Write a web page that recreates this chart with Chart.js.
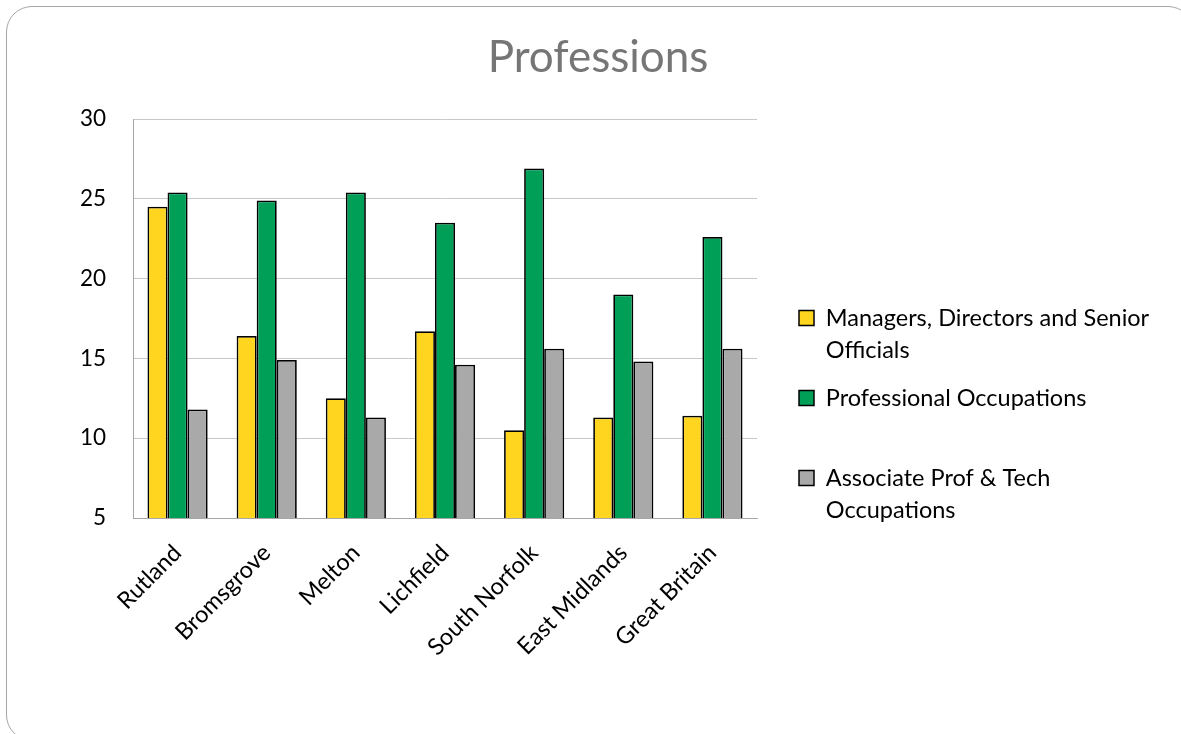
<!DOCTYPE html>
<html>
<head>
<meta charset="utf-8">
<script src="https://cdn.jsdelivr.net/npm/chart.js@4.4.1/dist/chart.umd.min.js"></script>
<style>
  html, body { margin: 0; padding: 0; background: #ffffff; }
  #wrap { position: relative; width: 1181px; height: 734px; overflow: hidden; background: #ffffff; }
  #frame { position: absolute; left: 6px; top: 6px; width: 1188px; height: 735px;
           border: 1.5px solid #a6a6a6; border-radius: 26px; box-sizing: border-box; }
  #c { position: absolute; left: 0; top: 0; }
</style>
</head>
<body>
<div id="wrap">
  <div id="frame"></div>
  <canvas id="c" width="1181" height="734"></canvas>
</div>
<script>
// Share of employment by occupation group (%)
const categories = ['Rutland', 'Bromsgrove', 'Melton', 'Lichfield', 'South Norfolk', 'East Midlands', 'Great Britain'];
const managers     = [24.5, 16.4, 12.5, 16.7, 10.5, 11.3, 11.4];
const professional = [25.4, 24.9, 25.4, 23.5, 26.9, 19.0, 22.6];
const associate    = [11.8, 14.9, 11.3, 14.6, 15.6, 14.8, 15.6];

const seriesNames = ['Managers, Directors and Senior Officials', 'Professional Occupations', 'Associate Prof & Tech Occupations'];
// legend text broken into lines (blank line keeps the entries evenly spaced)
const legendLines = [
  ['Managers, Directors and Senior', 'Officials'],
  ['Professional Occupations', ''],
  ['Associate Prof & Tech', 'Occupations']
];
const yTicks = [5, 10, 15, 20, 25, 30];

const FONT = 'Lato, "Open Sans", "DejaVu Sans", sans-serif';
const LEGEND_SIZE = 23.5;
const LEGEND_PAD = 16;
const BOX = 15;
const PLOT_LEFT = 133, PLOT_RIGHT = 757, PLOT_BOTTOM = 518, LEGEND_LEFT = 783;
const W = 1181, H = 734;

// work out side paddings so the legend starts at LEGEND_LEFT and the title sits centred on the card
const mctx = document.createElement('canvas').getContext('2d');
mctx.font = LEGEND_SIZE + 'px ' + FONT;
let longest = '';
legendLines.forEach(ls => ls.forEach(l => { if (l.length > longest.length) longest = l; }));
const textW = mctx.measureText(longest).width;
const legendW = LEGEND_PAD + BOX + LEGEND_SIZE / 2 + textW + 10;
const padRight = W - LEGEND_LEFT - legendW;
const padLeft = padRight + 15;

Chart.defaults.font.family = FONT;

new Chart(document.getElementById('c'), {
  type: 'bar',
  data: {
    labels: categories,
    datasets: [
      { label: seriesNames[0], data: managers,     backgroundColor: '#FFD520', borderColor: '#000000', borderWidth: 1.75, borderSkipped: false },
      { label: seriesNames[1], data: professional, backgroundColor: '#009F58', borderColor: '#000000', borderWidth: 1.75, borderSkipped: false },
      { label: seriesNames[2], data: associate,    backgroundColor: '#A9A9A9', borderColor: '#000000', borderWidth: 1.75, borderSkipped: false }
    ]
  },
  options: {
    responsive: false,
    animation: false,
    devicePixelRatio: 1,
    layout: { padding: { left: padLeft, right: padRight, top: 0, bottom: 0 } },
    datasets: { bar: { categoryPercentage: 0.675, barPercentage: 1.0 } },
    plugins: {
      tooltip: { enabled: false },
      title: {
        display: true,
        text: 'Professions',
        color: '#767676',
        font: { family: FONT, size: 44, weight: 'normal', lineHeight: 1.2 },
        padding: { top: 31, bottom: 35.2 }
      },
      legend: {
        position: 'right',
        align: 'start',
        maxWidth: 520,
        title: { display: true, text: '', font: { size: 12, lineHeight: '12px' }, padding: { top: 318 - LEGEND_SIZE / 2 - LEGEND_PAD - 12, bottom: 0 } },
        labels: {
          color: '#000000',
          boxWidth: BOX,
          boxHeight: BOX,
          padding: LEGEND_PAD,
          font: { family: FONT, size: LEGEND_SIZE, lineHeight: '32px' },
          generateLabels(chart) {
            return chart.data.datasets.map((ds, i) => ({
              text: legendLines[i],
              fillStyle: ds.backgroundColor,
              strokeStyle: '#000000',
              lineWidth: 1.5,
              fontColor: '#000000',
              hidden: false,
              datasetIndex: i
            }));
          }
        }
      }
    },
    scales: {
      x: {
        type: 'category',
        grid: { display: false, drawTicks: false },
        border: { display: true, color: '#a6a6a6', width: 1 },
        ticks: { color: '#000000', font: { size: 23.5 }, minRotation: 45, maxRotation: 45, padding: 21, autoSkip: false },
        afterFit(s) { s.height = H - PLOT_BOTTOM; }
      },
      y: {
        type: 'linear',
        min: 5,
        max: 30,
        grid: { color: '#c8c8c8', drawTicks: false, lineWidth: 1 },
        border: { display: true, color: '#a6a6a6', width: 1 },
        ticks: { color: '#000000', font: { size: 22.5 }, padding: 27, stepSize: 5 },
        afterBuildTicks(s) { s.ticks = yTicks.map(v => ({ value: v })); },
        afterFit(s) { s.width = PLOT_LEFT - padLeft; }
      },
      gap: {
        type: 'linear',
        position: 'right',
        display: true,
        grid: { display: false, drawTicks: false },
        border: { display: false },
        ticks: { display: false },
        afterFit(s) { s.width = LEGEND_LEFT - PLOT_RIGHT; }
      }
    }
  }
});
</script>
</body>
</html>
